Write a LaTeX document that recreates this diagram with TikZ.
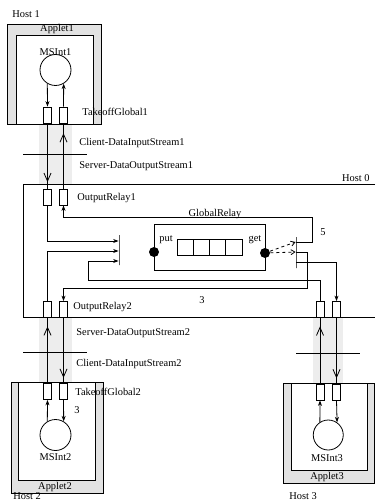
\documentclass[tikz,border=0pt]{standalone}
\usepackage{fontspec}
\setmainfont{Liberation Serif}
\usetikzlibrary{arrows.meta,decorations.markings}
\definecolor{stripgray}{RGB}{237,237,237}
\definecolor{framegray}{RGB}{226,226,226}
\begin{document}
\begin{tikzpicture}[x=1pt,y=-1pt,line width=0.8pt,
  lbl/.style={font=\fontsize{10.4}{12}\selectfont,inner sep=0pt},
  port/.style={draw,fill=white,minimum width=8pt,minimum height=16pt,inner sep=0pt},
  proc/.style={draw,fill=white,circle,minimum size=31pt,inner sep=0pt},
  dot/.style={circle,fill=black,minimum size=10pt,inner sep=0pt},
  cell/.style={draw,minimum width=16.25pt,minimum height=16pt,inner sep=0pt},
  muxbar/.style={draw,minimum width=0pt,inner sep=0pt},
  sarr/.style={-{Stealth[length=5.5pt,width=4pt]}},
  darr/.style={dashed,-{Straight Barb[length=4pt,width=5pt]}},
  flow/.style={postaction={decorate},decoration={markings,mark=at position #1 with {\arrow{Straight Barb[length=8pt,width=7pt]}}}}
]
\useasboundingbox (0,0) rectangle (375,502);

% ---------- shaded strips ----------
\fill[stripgray] (39,124) rectangle (72,184);
\fill[stripgray] (39,317) rectangle (72,382);
\fill[stripgray] (313,317) rectangle (343,383);

% ---------- Host 0 ----------
\draw (375,184) -- (23,184) -- (23,317) -- (375,317);
\node[lbl,anchor=east] (h0) at (370,178) {Host 0};

% ---------- Host 1 ----------
\node[lbl,anchor=west] (h1) at (12,14) {Host 1};
\draw[fill=framegray] (7,24) rectangle (101,124);
\draw[fill=white] (16,35) rectangle (93,124);
\node[lbl] (a1) at (57,29.5) {Applet1};
\node[lbl] (m1l) at (55.5,52) {MSInt1};
\node[proc] (m1) at (55.5,70) {};
\node[port] (t1a) at (47.5,115) {};
\node[port] (t1b) at (63.5,115) {};
\node[lbl,anchor=west] (t1l) at (82,112) {TakeoffGlobal1};
\draw[sarr] (m1.-121) -- (t1a.north);
\draw[sarr] (t1b.north) -- (m1.-59);
\draw (23,154) -- (87,154);
\node[lbl,anchor=west] (c1) at (79,143) {Client-DataInputStream1};
\node[lbl,anchor=west] (s1) at (79,166) {Server-DataOutputStream1};

% ---------- OutputRelay1 ----------
\node[port] (r1a) at (47.5,197) {};
\node[port] (r1b) at (63.5,197) {};
\node[lbl,anchor=west] (r1l) at (77,198) {OutputRelay1};
\draw[flow=0.9] (t1a.south) -- (r1a.north);
\draw[flow=0.85] (r1b.north) -- (t1b.south);

% ---------- OutputRelay2 ----------
\node[port] (r2a) at (47.5,309.5) {};
\node[port] (r2b) at (63.5,309.5) {};
\node[lbl,anchor=west] (r2l) at (73,307) {OutputRelay2};

% ---------- Host 3 relays ----------
\node[port] (h3ra) at (320,309.5) {};
\node[port] (h3rb) at (336.5,309.5) {};

% ---------- GlobalRelay ----------
\node[lbl] (grl) at (215,214) {GlobalRelay};
\node[draw,minimum width=111pt,minimum height=46pt,inner sep=0pt] (gr) at (209.5,247) {};
\foreach \i/\x in {1/185.1,2/201.4,3/217.6,4/233.9}
  \node[cell] (q\i) at (\x,247) {};
\node[dot] (put) at (154,252) {};
\node[dot] (get) at (265,253) {};
\node[lbl] (putl) at (166,240) {put};
\node[lbl] (getl) at (255,240) {get};

\node[muxbar,minimum height=30pt] (lmux) at (119,250) {};
\node[muxbar,minimum height=31pt] (rmux) at (296,252.5) {};

\draw[sarr] (r1a.south) |- (lmux.west |- 0,241);
\draw[sarr] (r2a.north) |- (lmux.west |- 0,251);
\draw[sarr] (h3ra.north) |- (88,280) |- (lmux.west |- 0,261);
\draw[darr] (get) -- (rmux.west |- 0,242);
\draw[darr] (get) -- (rmux.west |- 0,252);
\draw[sarr] (rmux.east |- 0,242) -| (312,217) -| (r1b.south);
\draw[sarr] (rmux.east |- 0,252) -| (307,288) -| (r2b.north);
\draw[sarr] (rmux.east |- 0,262) -| (h3rb.north);
\node[lbl] (n5) at (323,232) {5};
\node[lbl] (n3) at (202,300) {3};

% ---------- Host 2 ----------
\draw (23,352) -- (87,352);
\node[lbl,anchor=west] (s2) at (76,333) {Server-DataOutputStream2};
\node[lbl,anchor=west] (c2) at (76,364) {Client-DataInputStream2};
\draw[fill=framegray] (11,382) rectangle (103,493);
\draw[fill=white] (18,382) rectangle (95,480);
\node[lbl] (a2) at (55,487) {Applet2};
\node[port] (t2a) at (47.5,391.5) {};
\node[port] (t2b) at (63.5,391.5) {};
\node[lbl,anchor=west] (t2l) at (75,392) {TakeoffGlobal2};
\node[lbl] (n3b) at (77,410) {3};
\node[proc] (m2) at (55.5,435) {};
\node[lbl] (m2l) at (55.5,457) {MSInt2};
\draw[sarr] (m2.121) -- (t2a.south);
\draw[sarr] (t2b.south) -- (m2.59);
\draw[flow=0.87] (t2a.north) -- (r2a.south);
\draw[flow=0.92] (r2b.south) -- (t2b.north);
\node[lbl,anchor=west] (h2) at (13,496) {Host 2};

% ---------- Host 3 ----------
\draw (296,353) -- (360,353);
\draw[fill=framegray] (283,383) rectangle (374,483);
\draw[fill=white] (291,383) rectangle (367,470);
\node[lbl] (a3) at (327,477) {Applet3};
\node[port] (t3a) at (320,392) {};
\node[port] (t3b) at (336.5,392) {};
\node[proc,minimum size=30pt] (m3) at (328.25,435) {};
\node[lbl] (m3l) at (327,458) {MSInt3};
\draw[sarr] (m3.123) -- (t3a.south);
\draw[sarr] (t3b.south) -- (m3.55);
\draw[flow=0.87] (t3a.north) -- (h3ra.south);
\draw[flow=0.92] (h3rb.south) -- (t3b.north);
\node[lbl,anchor=west] (h3) at (289,496) {Host 3};
\end{tikzpicture}
\end{document}
